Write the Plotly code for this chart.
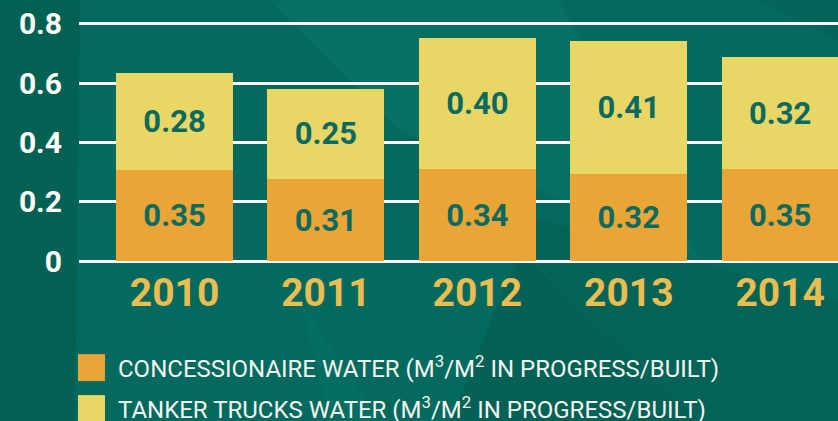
import plotly.graph_objects as go

years = ["2010", "2011", "2012", "2013", "2014"]
# segment heights as drawn in the picture
concessionaire = [0.307, 0.276, 0.310, 0.293, 0.310]
tanker = [0.327, 0.306, 0.444, 0.448, 0.377]
# printed labels
concessionaire_labels = ["0.35", "0.31", "0.34", "0.32", "0.35"]
tanker_labels = ["0.28", "0.25", "0.40", "0.41", "0.32"]
y_ticks = [0, 0.2, 0.4, 0.6, 0.8]
y_ticktext = ["0", "0.2", "0.4", "0.6", "0.8"]
series_names = [
    "CONCESSIONAIRE WATER (M<sup>3</sup>/M<sup>2</sup> IN PROGRESS/BUILT)",
    "TANKER TRUCKS WATER (M<sup>3</sup>/M<sup>2</sup> IN PROGRESS/BUILT)",
]

ORANGE = "#E9A535"
YELLOW = "#E9D765"
LABEL = "#0B6A60"
BG = "#046a5f"

W, H = 838, 421
ML, MR, MT, MB = 79, 0, 11.6, 155.2
PW, PH = W - ML - MR, H - MT - MB


def px(x):
    return (x - ML) / PW


def py(y):
    return (H - MB - y) / PH


fig = go.Figure()
fig.add_trace(go.Bar(
    x=years, y=concessionaire, name=series_names[0], marker_color=ORANGE,
    marker_line_width=0, text=concessionaire_labels, textposition="inside",
    insidetextanchor="middle",
    textfont=dict(family="Roboto", size=31, color=LABEL, weight="bold"),
    width=0.773, showlegend=False, hoverinfo="skip"))
fig.add_trace(go.Bar(
    x=years, y=tanker, name=series_names[1], marker_color=YELLOW,
    marker_line_width=0, text=tanker_labels, textposition="inside",
    insidetextanchor="middle",
    textfont=dict(family="Roboto", size=31, color=LABEL, weight="bold"),
    width=0.773, showlegend=False, hoverinfo="skip"))

# background facets (decoration)
facets = [
    ([(0, 0), (80, 0), (75, 421), (0, 421)], "rgba(0,80,60,0.35)"),
    ([(270, 0), (560, 0), (700, 260), (400, 130)], "rgba(20,140,120,0.18)"),
    ([(560, 0), (838, 0), (838, 40), (760, 0)], "rgba(0,70,60,0.15)"),
    ([(470, 200), (700, 421), (838, 421), (838, 300)], "rgba(0,60,50,0.15)"),
    ([(520, 250), (450, 421), (700, 421)], "rgba(0,60,50,0.18)"),
    ([(300, 300), (380, 421), (330, 421)], "rgba(20,140,120,0.12)"),
]
shapes = []
for pts, col in facets:
    path = "M " + " L ".join(f"{px(x):.4f},{py(y):.4f}" for x, y in pts) + " Z"
    shapes.append(dict(type="path", xref="paper", yref="paper", path=path,
                       fillcolor=col, line=dict(width=0), layer="below"))

# legend drawn manually
legend_rows = [(ORANGE, 367.5), (YELLOW, 408.5)]
annotations = []
for (col, yc), name in zip(legend_rows, series_names):
    shapes.append(dict(type="rect", xref="paper", yref="paper",
                       x0=px(78), x1=px(105), y0=py(yc - 13.5), y1=py(yc + 13.5),
                       fillcolor=col, line=dict(width=0)))
    annotations.append(dict(xref="paper", yref="paper", x=px(116), y=py(yc - 1),
                            xanchor="left", yanchor="middle", showarrow=False,
                            text=name,
                            font=dict(family="Roboto", size=24, color="#F2F5F0")))

fig.update_layout(
    width=W, height=H, barmode="stack",
    margin=dict(l=ML, r=MR, t=MT, b=MB, pad=0),
    paper_bgcolor=BG, plot_bgcolor="rgba(0,0,0,0)",
    shapes=shapes, annotations=annotations,
    xaxis=dict(range=[-0.631, 4.382], showgrid=False, zeroline=False,
               tickfont=dict(family="Roboto", size=39, color="#E9BD50", weight="bold"),
               ticks="", ticklabelstandoff=0, fixedrange=True),
    yaxis=dict(range=[-0.016, 0.84], tickvals=y_ticks, ticktext=y_ticktext,
               showgrid=True, gridcolor="white", gridwidth=2.5, zeroline=False,
               tickfont=dict(family="Roboto", size=30, color="white", weight="bold"),
               ticks="", ticklabelstandoff=16, fixedrange=True),
    uniformtext=dict(mode=False),
)
fig.write_html("out.html", config={"displayModeBar": False},
               post_script="document.body.style.margin='0';document.body.style.overflow='hidden';")
